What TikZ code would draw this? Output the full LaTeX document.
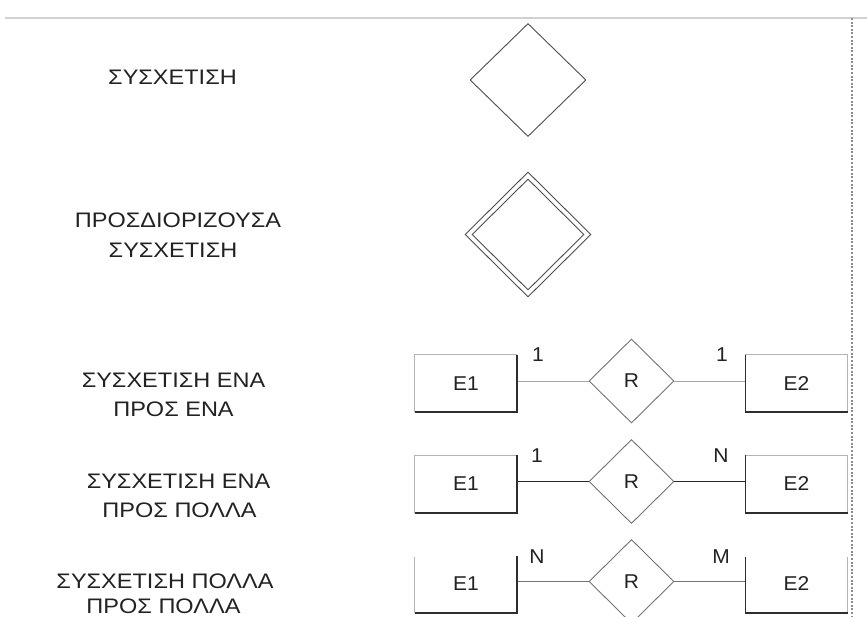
\documentclass[tikz,border=0pt]{standalone}
\usepackage{fontspec}
\usetikzlibrary{shapes.geometric}
\newfontfamily\lblfont[FakeStretch=1.12]{Liberation Sans}
\newfontfamily\tagfont[FakeStretch=1.05]{Liberation Sans}
\definecolor{edgelite}{HTML}{B4B4B4}
\definecolor{edgedark}{HTML}{2E2E2E}
\definecolor{inkgray}{HTML}{222222}
\begin{document}
\begin{tikzpicture}[x=1pt,y=-1pt,
  title/.style={anchor=base,text=inkgray,inner sep=0pt,
    font={\lblfont\fontsize{21}{25}\selectfont}},
  tag/.style={text=inkgray,inner sep=0pt,font={\tagfont\fontsize{20}{24}\selectfont}},
  entity/.style={minimum width=102pt,minimum height=57pt,inner sep=0pt,
    text=inkgray,font={\tagfont\fontsize{20}{24}\selectfont}},
  rel/.style={diamond,draw=gray!90!black,line width=0.9pt,inner sep=0pt,
    minimum width=85pt,minimum height=84pt,text=inkgray,
    font={\tagfont\fontsize{20}{24}\selectfont}},
  bigrel/.style={diamond,draw=black!70,line width=0.9pt,inner sep=0pt},
  lite/.style={draw=edgelite,line width=0.8pt},
  heavy/.style={draw=edgedark,line width=1.6pt},
  link1/.style={draw=black!35,line width=1pt},
  link2/.style={draw=black!85,line width=1.5pt},
  link3/.style={draw=black!55,line width=1pt}]
\useasboundingbox (0,0) rectangle (867,617);
\clip (0,0) rectangle (867,617);

% page frame: top rule and dotted right margin
\coordinate (ruleL) at (5,18);
\coordinate (ruleR) at (867,18);
\coordinate (margT) at (852,18);
\coordinate (margB) at (852,617);
\draw[draw=black!18,line width=2pt] (ruleL) -- (ruleR);
\draw[draw=black!45,line width=1.2pt,dash pattern=on 2pt off 1.6pt] (margT) -- (margB);

% legend texts, one node per line
\node[title] (t1)  at (172.5,85)  {ΣΥΣΧΕΤΙΣΗ};
\node[title] (t2a) at (178,228)   {ΠΡΟΣΔΙΟΡΙΖΟΥΣΑ};
\node[title] (t2b) at (173,257.5) {ΣΥΣΧΕΤΙΣΗ};
\node[title] (t3a) at (173.5,387) {ΣΥΣΧΕΤΙΣΗ ΕΝΑ};
\node[title] (t3b) at (173.5,416) {ΠΡΟΣ ΕΝΑ};
\node[title] (t4a) at (178.5,488) {ΣΥΣΧΕΤΙΣΗ ΕΝΑ};
\node[title] (t4b) at (179.5,517) {ΠΡΟΣ ΠΟΛΛΑ};
\node[title] (t5a) at (165,588)   {ΣΥΣΧΕΤΙΣΗ ΠΟΛΛΑ};
\node[title] (t5b) at (163.5,613) {ΠΡΟΣ ΠΟΛΛΑ};

% relationship symbols
\node[bigrel,minimum width=116pt,minimum height=113pt] (rel) at (528,80) {};
\node[bigrel,minimum width=126pt,minimum height=125pt] (idrel) at (528,234.5) {};
\node[bigrel,minimum width=112pt,minimum height=111pt] (idrelin) at (528,234.5) {};

% row 1 : one to one
\node[entity] (e1a) at (466,383.5) {E1};
\node[entity] (e2a) at (796.5,383.5) {E2};
\node[rel] (ra) at (631.5,381) {R};
\draw[link1] (e1a.east |- ra.west) -- (ra.west);
\draw[link1] (ra.east) -- (e2a.west |- ra.east);
\draw[lite] (e1a.south west) -- (e1a.north west) -- (e1a.north east);
\draw[heavy] (e1a.north east) -- (e1a.south east) -- (e1a.south west);
\draw[lite] (e2a.north west) -- (e2a.north east) -- (e2a.south east);
\draw[heavy] (e2a.north west) -- (e2a.south west) -- (e2a.south east);
\node[tag] (ca1) at (538,355) {1};
\node[tag] (ca2) at (722,355) {1};

% row 2 : one to many
\node[entity] (e1b) at (466,484) {E1};
\node[entity] (e2b) at (796.5,484) {E2};
\node[rel] (rb) at (631.5,481.5) {R};
\draw[link2] (e1b.east |- rb.west) -- (rb.west);
\draw[link2] (rb.east) -- (e2b.west |- rb.east);
\draw[lite] (e1b.south west) -- (e1b.north west) -- (e1b.north east);
\draw[heavy] (e1b.north east) -- (e1b.south east) -- (e1b.south west);
\draw[lite] (e2b.north west) -- (e2b.north east) -- (e2b.south east);
\draw[heavy] (e2b.north west) -- (e2b.south west) -- (e2b.south east);
\node[tag] (cb1) at (537,456) {1};
\node[tag] (cb2) at (721,456) {N};

% row 3 : many to many
\node[entity] (e1c) at (466,584) {E1};
\node[entity] (e2c) at (796.5,584) {E2};
\node[rel] (rc) at (631.5,581.5) {R};
\draw[link3] (e1c.east |- rc.west) -- (rc.west);
\draw[link3] (rc.east) -- (e2c.west |- rc.east);
\draw[lite] (e1c.south west) -- ([yshift=-2pt]e1c.north west);
\draw[heavy] ([yshift=-1pt]e1c.north east) -- (e1c.south east) -- (e1c.south west);
\draw[lite] ([yshift=-2pt]e2c.north east) -- (e2c.south east);
\draw[heavy] ([yshift=-2pt]e2c.north west) -- (e2c.south west) -- (e2c.south east);
\node[tag] (cc1) at (537,557) {N};
\node[tag] (cc2) at (721,557) {M};
\end{tikzpicture}
\end{document}
